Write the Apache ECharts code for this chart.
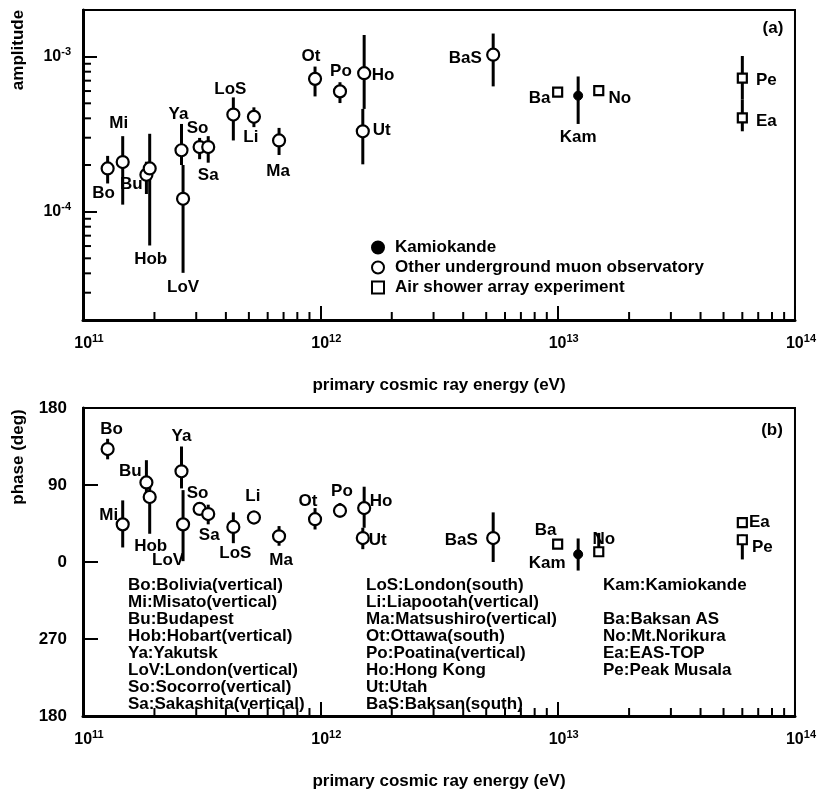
<!DOCTYPE html>
<html><head><meta charset="utf-8">
<script src="https://cdn.jsdelivr.net/npm/echarts@6/dist/echarts.min.js"></script>
<style>html,body{margin:0;padding:0;background:#fff}#c{width:819px;height:791px}</style>
</head><body><div id="c"></div>
<script>
const FONT = '"Liberation Sans", Arial, Helvetica, sans-serif';

// ---------- data ----------
const ugNames   = ['Bo','Mi','Bu','Hob','Ya','LoV','So','Sa','LoS','Li','Ma','Ot','Po','Ho','Ut','BaS'];
const ugEnergy  = [1.27e11,1.47e11,1.85e11,1.91e11,2.60e11,2.64e11,3.10e11,3.37e11,4.30e11,5.25e11,6.70e11,9.50e11,1.21e12,1.53e12,1.51e12,5.35e12];
const ugAmp     = [1.90e-4,2.09e-4,1.73e-4,1.90e-4,2.49e-4,1.21e-4,2.61e-4,2.61e-4,4.23e-4,4.09e-4,2.88e-4,7.19e-4,5.97e-4,7.82e-4,3.30e-4,1.03e-3];
const ugAmpLow  = [1.52e-4,1.11e-4,1.30e-4,6.05e-5,2.00e-4,4.03e-5,2.18e-4,2.07e-4,2.88e-4,3.51e-4,2.32e-4,5.54e-4,5.02e-4,4.60e-4,2.02e-4,6.43e-4];
const ugAmpHigh = [2.29e-4,3.07e-4,2.10e-4,3.18e-4,3.68e-4,2.00e-4,2.99e-4,3.07e-4,5.46e-4,4.71e-4,3.47e-4,8.63e-4,6.84e-4,1.38e-3,4.60e-4,1.41e-3];
const ugPhase     = [132,44,93,76,106,44,62,56,41,52,30,50,60,63,28,28];
const ugPhaseLow  = [120,17,76,33,86,1,55,44,22,44,19,38,52,40,15,0];
const ugPhaseHigh = [144,72,119,93,135,84,70,67,58,60,42,63,69,88,40,58];

const kamNames = ['Kam'];
const kamEnergy = [1.22e13];
const kamAmp = [5.6e-4], kamAmpLow = [3.68e-4], kamAmpHigh = [7.45e-4];
const kamPhase = [9], kamPhaseLow = [-10], kamPhaseHigh = [27.5];

const airNames  = ['Ba','No','Pe','Ea'];
const airEnergy = [1.0e13,1.49e13,6.0e13,6.0e13];
const airAmp     = [5.9e-4,6.03e-4,7.26e-4,4.03e-4];
const airAmpLow  = [5.9e-4,6.03e-4,5.3e-4,3.30e-4];
const airAmpHigh = [5.9e-4,6.03e-4,1.01e-3,5.3e-4];
const airPhase     = [21,12,26,46];
const airPhaseLow  = [21,8,3,40];
const airPhaseHigh = [21,34,32,51];

const seriesNames = ['Kamiokande','Other underground muon observatory','Air shower array experiment'];
const xTickExponents = [11,12,13,14];
const phaseTickValues = [-180,-90,0,90,180];
const phaseTickLabels = ['180','270','0','90','180'];

const legendCol1 = ['Bo:Bolivia(vertical)','Mi:Misato(vertical)','Bu:Budapest','Hob:Hobart(vertical)','Ya:Yakutsk','LoV:London(vertical)','So:Socorro(vertical)','Sa:Sakashita(vertical)'];
const legendCol2 = ['LoS:London(south)','Li:Liapootah(vertical)','Ma:Matsushiro(vertical)','Ot:Ottawa(south)','Po:Poatina(vertical)','Ho:Hong Kong','Ut:Utah','BaS:Baksan(south)'];
const legendCol3 = ['Kam:Kamiokande','','Ba:Baksan AS','No:Mt.Norikura','Ea:EAS-TOP','Pe:Peak Musala'];

// ---------- label offsets (layout) ----------
const offA = {Bo:[-4,25],Mi:[-4,-39],Bu:[-15,10],Hob:[1,91],Ya:[-3,-36],LoV:[0,88],So:[-2,-19],Sa:[0,28],LoS:[-3,-25],Li:[-3,20],Ma:[-1,31],Ot:[-4,-23],Po:[1,-20],Ho:[19,2],Ut:[19,-1],BaS:[-28,4],Kam:[0,42],Ba:[-18,6],No:[21,8],Pe:[24,2],Ea:[24,3]};
const offB = {Bo:[4,-20],Bu:[-16,-11],Mi:[-14,-9],Hob:[1,49],LoV:[-15,36],Ya:[0,-35],So:[-2,-16],Sa:[1,21],LoS:[2,26],Li:[-1,-21],Ma:[2,24],Ot:[-7,-18],Po:[2,-19],Ho:[17,-7],Ut:[15,2],BaS:[-32,2],Ba:[-12,-14],Kam:[-31,9],No:[5,-12],Ea:[17,0],Pe:[20,8]};

const AMP_MIN = 2e-5, AMP_MAX = 2e-3, E_MIN = 1e11, E_MAX = 1e14;

// minor tick positions (log decades)
const xMinor = [];
for (let k = 11; k <= 13; k++) for (let m = 2; m <= 9; m++) xMinor.push(m * Math.pow(10, k));
const yMinorAmp = [];
for (let m = 3; m <= 9; m++) yMinorAmp.push(m * 1e-5);
for (let m = 2; m <= 9; m++) yMinorAmp.push(m * 1e-4);

// ---------- helpers ----------
function pts(names, xs, ys, off) {
  return names.map((n, i) => ({name: n, value: [xs[i], ys[i]], label: {offset: off[n]}}));
}
function bars(xs, lo, hi) { return xs.map((x, i) => [x, lo[i], hi[i]]); }

const labelStyle = {show: true, position: 'inside', formatter: '{b}', color: '#000', fontSize: 17, fontWeight: 'bold', fontFamily: FONT};
const richTick = {
  b: {fontSize: 16, fontWeight: 'bold', fontFamily: FONT, color: '#000'},
  s: {fontSize: 11, fontWeight: 'bold', fontFamily: FONT, color: '#000', padding: [0, 0, 10, 0]}
};

function xAxisCfg(gi) {
  return {
    type: 'log', logBase: 10, gridIndex: gi, min: E_MIN, max: E_MAX,
    name: 'primary cosmic ray energy (eV)', nameLocation: 'middle', nameGap: 57,
    nameTextStyle: {fontSize: 17, fontWeight: 'bold', fontFamily: FONT, color: '#000'},
    axisLine: {onZero: false, lineStyle: {color: '#000', width: 3}},
    axisTick: {inside: true, length: 14, lineStyle: {color: '#000', width: 2}},
    axisLabel: {margin: 13, padding: [0, 0, 0, 12], color: '#000',
      formatter: v => { const e = Math.round(Math.log10(v)); return xTickExponents.indexOf(e) >= 0 ? '{b|10}{s|' + e + '}' : ''; },
      rich: richTick},
    splitLine: {show: false}
  };
}

function errSeries(name, xi, yi, data) {
  return {
    type: 'custom', name: name, xAxisIndex: xi, yAxisIndex: yi, data: data, silent: true, z: 2,
    encode: {x: 0, y: [1, 2]},
    renderItem: (params, api) => {
      const x = api.value(0);
      const p1 = api.coord([x, api.value(1)]);
      const p2 = api.coord([x, api.value(2)]);
      return {type: 'line', shape: {x1: p1[0], y1: p1[1], x2: p2[0], y2: p2[1]}, style: {stroke: '#000', lineWidth: 3}};
    }
  };
}

function minorX(xi, yi, ymin) {
  return {
    type: 'custom', xAxisIndex: xi, yAxisIndex: yi, silent: true, z: 5,
    data: xMinor.map(v => [v, ymin]), encode: {x: 0, y: 1},
    renderItem: (params, api) => {
      const p = api.coord([api.value(0), api.value(1)]);
      return {type: 'line', shape: {x1: p[0], y1: p[1], x2: p[0], y2: p[1] - 8}, style: {stroke: '#000', lineWidth: 2}};
    }
  };
}

function scatter(name, xi, yi, data, symbol, size, filled) {
  return {
    type: 'scatter', name: name, xAxisIndex: xi, yAxisIndex: yi, data: data, z: 3,
    symbol: symbol, symbolSize: size,
    itemStyle: {color: filled ? '#000' : '#fff', borderColor: '#000', borderWidth: filled ? 1 : 2.2, opacity: 1},
    label: labelStyle, emphasis: {disabled: true}
  };
}

const graphicTexts = [];
function gtext(x, y, text, align, rot) {
  graphicTexts.push({type: 'text', x: x, y: y, rotation: rot || 0, silent: true,
    style: {text: text, font: 'bold 17px ' + FONT, fill: '#000', align: align, verticalAlign: 'middle', textAlign: align, textVerticalAlign: 'middle'}});
}
gtext(773, 28, '(a)', 'center');
gtext(772, 430, '(b)', 'center');
gtext(18, 50, 'amplitude', 'center', Math.PI / 2);
gtext(18, 457, 'phase (deg)', 'center', Math.PI / 2);
legendCol1.forEach((t, i) => gtext(128, 585 + 17 * i, t, 'left'));
legendCol2.forEach((t, i) => gtext(366, 585 + 17 * i, t, 'left'));
legendCol3.forEach((t, i) => { if (t) gtext(603, 585 + 17 * i, t, 'left'); });

const option = {
  backgroundColor: '#fff',
  animation: false,
  textStyle: {fontFamily: FONT},
  grid: [
    {left: 83, top: 10, width: 714, height: 310, show: true, borderColor: '#000', borderWidth: 2, backgroundColor: 'transparent'},
    {left: 83, top: 408, width: 714, height: 311, show: true, borderColor: '#000', borderWidth: 2, backgroundColor: 'transparent'}
  ],
  legend: {
    data: seriesNames, orient: 'vertical', left: 366, top: 234, itemWidth: 12, itemHeight: 12, itemGap: 3,
    selectedMode: false,
    textStyle: {fontSize: 17, fontWeight: 'bold', fontFamily: FONT, color: '#000', padding: [0, 0, 0, 6]}
  },
  xAxis: [xAxisCfg(0), xAxisCfg(1)],
  yAxis: [
    {type: 'log', logBase: 10, gridIndex: 0, min: AMP_MIN, max: AMP_MAX,
      axisLine: {onZero: false, lineStyle: {color: '#000', width: 3}},
      axisTick: {inside: true, length: 14, lineStyle: {color: '#000', width: 2}},
      axisLabel: {margin: 12, color: '#000', showMinLabel: true, showMaxLabel: true,
        formatter: v => { const e = Math.log10(v); if (Math.abs(e - Math.round(e)) > 1e-6) return ''; return '{b|10}{s|' + Math.round(e) + '}'; },
        rich: richTick},
      splitLine: {show: false}},
    {type: 'value', gridIndex: 1, min: -180, max: 180, interval: 90,
      axisLine: {onZero: false, lineStyle: {color: '#000', width: 3}},
      axisTick: {inside: true, length: 15, lineStyle: {color: '#000', width: 2}},
      axisLabel: {margin: 16, color: '#000', fontSize: 17, fontWeight: 'bold', fontFamily: FONT,
        formatter: v => { const i = phaseTickValues.indexOf(v); return i >= 0 ? phaseTickLabels[i] : ''; }},
      splitLine: {show: false}}
  ],
  graphic: {elements: graphicTexts},
  series: [
    // panel (a)
    errSeries('errA-ug', 0, 0, bars(ugEnergy, ugAmpLow, ugAmpHigh)),
    errSeries('errA-kam', 0, 0, bars(kamEnergy, kamAmpLow, kamAmpHigh)),
    errSeries('errA-air', 0, 0, bars(airEnergy, airAmpLow, airAmpHigh)),
    scatter(seriesNames[0], 0, 0, pts(kamNames, kamEnergy, kamAmp, offA), 'circle', 9, true),
    scatter(seriesNames[1], 0, 0, pts(ugNames, ugEnergy, ugAmp, offA), 'circle', 12, false),
    scatter(seriesNames[2], 0, 0, pts(airNames, airEnergy, airAmp, offA), 'rect', 9, false),
    minorX(0, 0, AMP_MIN),
    {type: 'custom', xAxisIndex: 0, yAxisIndex: 0, silent: true, z: 5,
      data: yMinorAmp.map(v => [E_MIN, v]), encode: {x: 0, y: 1},
      renderItem: (params, api) => {
        const p = api.coord([api.value(0), api.value(1)]);
        return {type: 'line', shape: {x1: p[0], y1: p[1], x2: p[0] + 8, y2: p[1]}, style: {stroke: '#000', lineWidth: 2}};
      }},
    // panel (b)
    errSeries('errB-ug', 1, 1, bars(ugEnergy, ugPhaseLow, ugPhaseHigh)),
    errSeries('errB-kam', 1, 1, bars(kamEnergy, kamPhaseLow, kamPhaseHigh)),
    errSeries('errB-air', 1, 1, bars(airEnergy, airPhaseLow, airPhaseHigh)),
    scatter(seriesNames[0], 1, 1, pts(kamNames, kamEnergy, kamPhase, offB), 'circle', 9, true),
    scatter(seriesNames[1], 1, 1, pts(ugNames, ugEnergy, ugPhase, offB), 'circle', 12, false),
    scatter(seriesNames[2], 1, 1, pts(airNames, airEnergy, airPhase, offB), 'rect', 9, false),
    minorX(1, 1, -180)
  ]
};

const chart = echarts.init(document.getElementById('c'), null, {renderer: 'canvas'});
chart.setOption(option);
</script>
</body></html>
